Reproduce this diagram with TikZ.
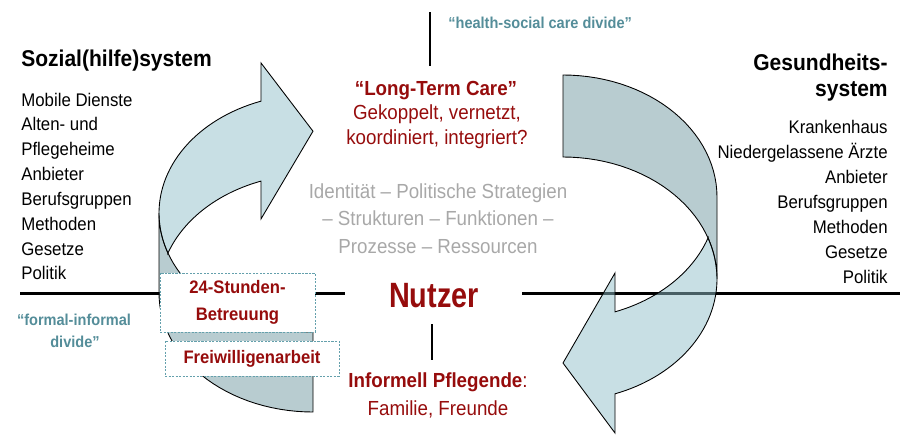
\documentclass[tikz,border=0pt]{standalone}
\usepackage{fontspec}
\setmainfont{Liberation Sans}[FakeStretch=0.92]
\newfontfamily\narrowsans{Liberation Sans}[FakeStretch=0.82]
\usepackage{tikz}

% one ribbon arrow, tail at the origin (x right, y down):
% back face between two shifted half ellipses, front face ending in the head
\newcommand{\ribbonarrow}{%
  \filldraw[backface]
    plot[domain=90:0, samples=30, variable=\t] ({154*cos(\t)}, {122-122*sin(\t)})
    -- (154,204)
    -- plot[domain=0:90, samples=30, variable=\t] ({154*cos(\t)}, {204-122*sin(\t)})
    -- cycle;
  \filldraw[frontface]
    plot[domain=-19.6:-70.26, samples=30, variable=\t] ({154*cos(\t)}, {122-122*sin(\t)})
    -- (52,198) -- (0,288) -- (52,358)
    -- plot[domain=-70.26:19.6, samples=40, variable=\t] ({154*cos(\t)}, {204-122*sin(\t)})
    -- cycle;
}

\begin{document}
\begin{tikzpicture}[x=0.02cm, y=-0.02cm,
    every node/.style={inner sep=0pt},
    divider/.style={line width=1.7pt},
    backface/.style={draw=black, line width=0.5pt, fill=ribbondark, fill opacity=0.5},
    frontface/.style={draw=black, line width=0.5pt, fill=ribbonlight, fill opacity=0.5},
    systitle/.style={font=\bfseries\fontsize{13}{15.6}\selectfont},
    listtext/.style={font=\fontsize{10.4}{12.5}\selectfont},
    dividetext/.style={text=dividerteal, font=\bfseries\fontsize{9}{11}\selectfont},
    redtext/.style={text=carered, font=\fontsize{11.6}{14}\selectfont},
    redbold/.style={text=carered, font=\bfseries\fontsize{11.6}{14}\selectfont},
    greytext/.style={text=softgrey, font=\fontsize{11.6}{14}\selectfont},
    infobox/.style={draw=boxedge, dash pattern=on 1.2pt off 0.8pt, line width=0.5pt,
      fill=white, text=carered, align=center, font=\bfseries\fontsize{10.3}{15.2}\selectfont}]
      \definecolor{ribbonlight}{RGB}{145,191,201}
      \definecolor{ribbondark}{RGB}{113,153,161}
      \definecolor{carered}{RGB}{150,12,12}
      \definecolor{dividerteal}{RGB}{84,141,153}
      \definecolor{softgrey}{RGB}{168,168,168}
      \definecolor{boxedge}{RGB}{100,160,172}

      \useasboundingbox (0,0) rectangle (900,437);

      % dividing lines
      \draw[divider] (20,293) -- (345,293);
      \draw[divider] (522,293) -- (900,293);
      \draw[divider] (430,12) -- (430,66);
      \draw[divider] (432,324) -- (432,360);

      % the two ribbons
      \begin{scope}[shift={(563,75)}]
        \ribbonarrow
      \end{scope}
      \begin{scope}[shift={(313,412)}, rotate=180, yscale=0.975]
        \ribbonarrow
      \end{scope}

      % left column
      \node[systitle, anchor=base west] (sozial) at (21,66.5) {Sozial(hilfe)system};
      \foreach \entry [count=\i from 0] in {Mobile Dienste, Alten- und, Pflegeheime, Anbieter,
          Berufsgruppen, Methoden, Gesetze, Politik} {
        \node[listtext, anchor=base west] (soz\i) at (21, 106+24.85*\i) {\entry};
      }

      % right column
      \node[systitle, anchor=base east] (gesund) at (888,70) {Gesundheits-};
      \node[systitle, anchor=base east] (gesund2) at (888,96) {system};
      \foreach \entry [count=\i from 0] in {Krankenhaus, Niedergelassene Ärzte, Anbieter,
          Berufsgruppen, Methoden, Gesetze, Politik} {
        \node[listtext, anchor=base east] (ges\i) at (888, 133+25*\i) {\entry};
      }

      % labels of the divides
      \node[dividetext, anchor=base west] (hsdivide) at (448,28) {“health-social care divide”};
      \node[dividetext, anchor=base] (fidivide) at (74,325) {“formal-informal};
      \node[dividetext, anchor=base] (fidivide2) at (75,347) {divide”};

      % centre
      \node[redbold, anchor=base] (ltc) at (436,95) {“Long-Term Care”};
      \node[redtext, anchor=base] (ltc1) at (437,119.5) {Gekoppelt, vernetzt,};
      \node[redtext, anchor=base] (ltc2) at (437,144) {koordiniert, integriert?};
      \foreach \entry/\y [count=\i] in {Identität – Politische Strategien/198,
          – Strukturen – Funktionen –/225.5, Prozesse – Ressourcen/253} {
        \node[greytext, anchor=base] (grey\i) at (438,\y) {\entry};
      }
      \node[text=carered, font=\narrowsans\bfseries\fontsize{20}{24}\selectfont, anchor=base]
        (nutzer) at (434,307.5) {Nutzer};
      \node[redtext, anchor=base] (informell) at (438,387) {\textbf{Informell Pflegende}:};
      \node[redtext, anchor=base] (familie) at (438,415) {Familie, Freunde};

      % boxes on the left ribbon
      \node[infobox, minimum width=3.1cm, minimum height=1.18cm] (stunden) at (237.5,302.5)
        {24-Stunden-\\Betreuung};
      \node[infobox, minimum width=3.48cm, minimum height=0.7cm] (freiwillig) at (252,358.5)
        {Freiwilligenarbeit};
    \end{tikzpicture}
\end{document}
